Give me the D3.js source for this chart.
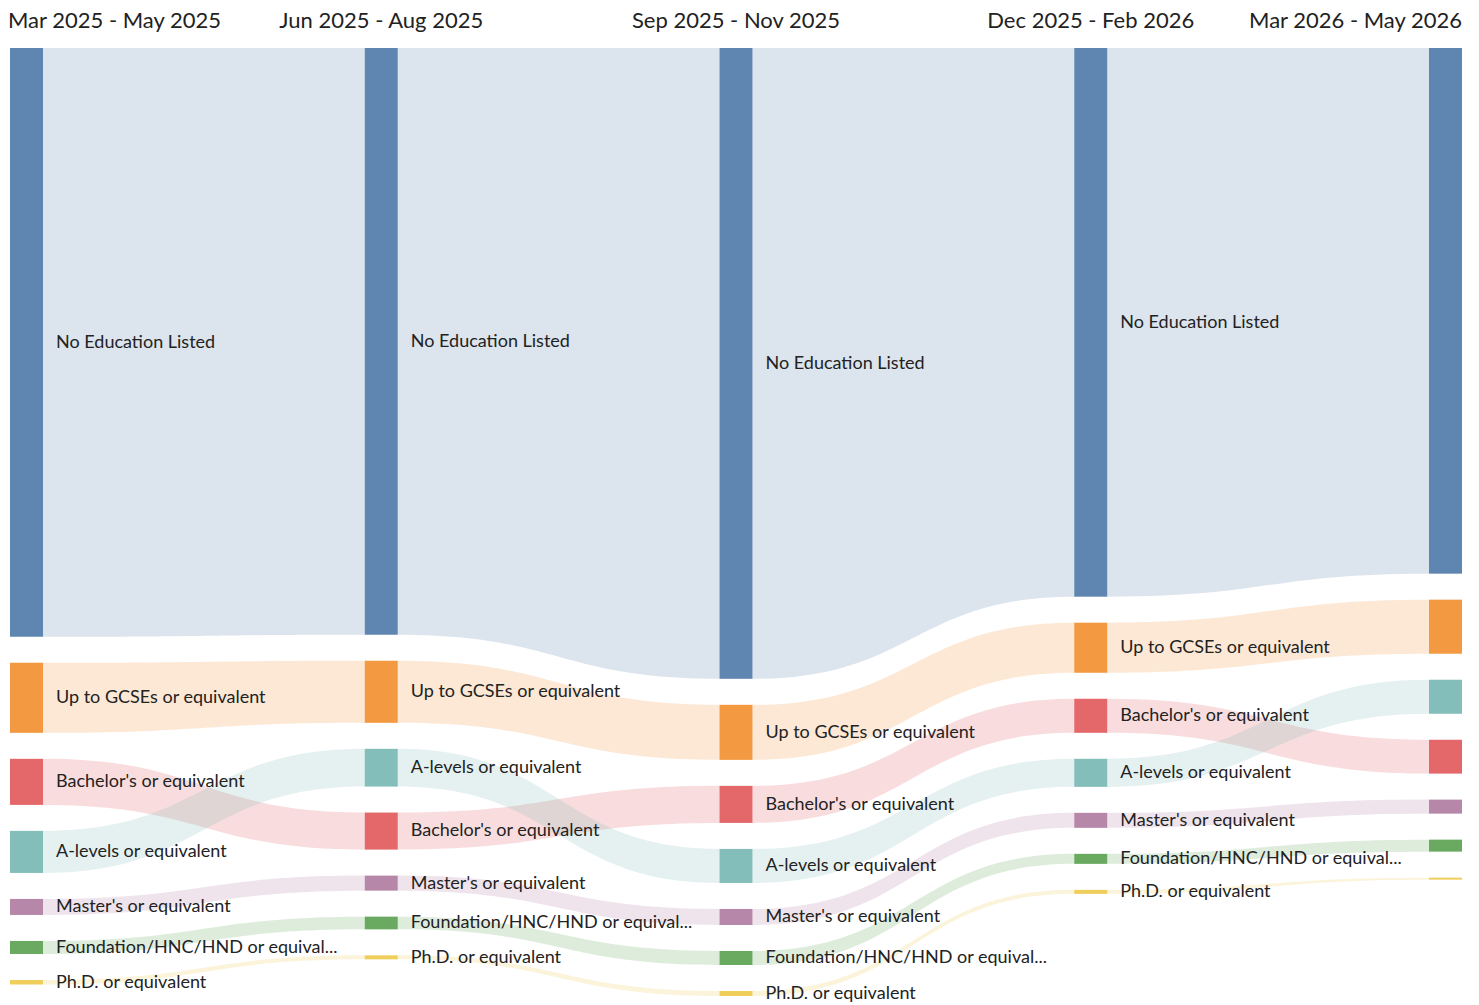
<!DOCTYPE html>
<html>
<head>
<meta charset="utf-8">
<script src="https://cdn.jsdelivr.net/npm/d3@7"></script>
<style>
  body { margin: 0; background: #fff; }
  svg { display: block; font-family: Lato, "Open Sans", sans-serif; }
</style>
</head>
<body>
<svg id="chart"></svg>
<script>
// periods (columns)
const periods = ["Mar 2025 - May 2025", "Jun 2025 - Aug 2025", "Sep 2025 - Nov 2025", "Dec 2025 - Feb 2026", "Mar 2026 - May 2026"];

const categories = [
  "No Education Listed",
  "Up to GCSEs or equivalent",
  "Bachelor's or equivalent",
  "A-levels or equivalent",
  "Master's or equivalent",
  "Foundation/HNC/HND or equivalent",
  "Ph.D. or equivalent"
];

// one value per period, same order as periods
const noEducation = [588, 586, 630, 548, 525];
const gcses       = [70, 62, 55, 50, 54];
const bachelors   = [46, 37, 37, 34, 33.8];
const aLevels     = [42, 37.7, 34, 28, 34];
const masters     = [16, 15, 16, 15, 14];
const foundation  = [13, 12.7, 14, 10, 12];
const phd         = [4.5, 4, 5, 4, 2];

const seriesValues = [noEducation, gcses, bachelors, aLevels, masters, foundation, phd];

const colors = ["#4e79a7", "#f28e2c", "#e15759", "#76b7b2", "#af7aa1", "#59a14f", "#edc949"];

const width = 1479, height = 1005;
const nodeWidth = 33, nodePadding = 26;
const yTop = 48, yBottom = 996;

const svg = d3.select("#chart").attr("width", width).attr("height", height);

const colour = d3.scaleOrdinal().domain(categories).range(colors);

const xScale = d3.scalePoint()
  .domain(periods)
  .range([10, width - 17 - nodeWidth]);

// build the nodes for every column, stacked by value descending
let columns = periods.map((p, i) => {
  let nodes = categories.map((c, j) => ({ period: p, col: i, category: c, value: seriesValues[j][i], order: j }));
  nodes.sort((a, b) => d3.descending(a.value, b.value) || a.order - b.order);
  return nodes;
});

let maxSum = d3.max(columns, col => d3.sum(col, d => d.value));
let ky = (yBottom - yTop - (categories.length - 1) * nodePadding) / maxSum;

const yScale = d3.scaleLinear().domain([0, maxSum]).range([0, maxSum * ky]);

columns.forEach(col => {
  let y = yTop;
  col.forEach(n => {
    n.x0 = xScale(n.period);
    n.x1 = n.x0 + nodeWidth;
    n.y0 = y;
    n.y1 = y + yScale(n.value);
    y = n.y1 + nodePadding;
  });
});

// links between the same category in adjacent columns
let links = [];
for (let i = 0; i < columns.length - 1; i++) {
  categories.forEach(c => {
    let s = columns[i].find(n => n.category == c);
    let t = columns[i + 1].find(n => n.category == c);
    links.push({ source: s, target: t, category: c });
  });
}

function bandPath(d) {
  let x0 = d.source.x1, x1 = d.target.x0;
  let xm = (x0 + x1) / 2;
  return `M${x0},${d.source.y0}C${xm},${d.source.y0} ${xm},${d.target.y0} ${x1},${d.target.y0}` +
    `L${x1},${d.target.y1}C${xm},${d.target.y1} ${xm},${d.source.y1} ${x0},${d.source.y1}Z`;
}

svg.append("g").attr("id", "links")
  .selectAll("path")
  .data(links)
  .join("path")
  .attr("d", bandPath)
  .attr("fill", d => colour(d.category))
  .attr("fill-opacity", 0.2);

let allNodes = columns.flat();

svg.append("g").attr("id", "nodes")
  .selectAll("rect")
  .data(allNodes)
  .join("rect")
  .attr("x", d => d.x0)
  .attr("y", d => d.y0)
  .attr("width", nodeWidth)
  .attr("height", d => Math.max(1, d.y1 - d.y0))
  .attr("fill", d => colour(d.category))
  .attr("fill-opacity", 0.9);

// node labels, all columns but the last
let labels = svg.append("g").attr("id", "labels")
  .selectAll("text")
  .data(allNodes.filter(d => d.col < periods.length - 1))
  .join("text")
  .attr("x", d => d.x1 + 13)
  .attr("y", d => (d.y0 + d.y1) / 2)
  .attr("dy", "0.3em")
  .attr("font-size", 18)
  .attr("fill", "#222")
  .text(d => d.category);

// truncate long labels
const maxLabel = 283;
labels.each(function(d) {
  let el = d3.select(this);
  let txt = d.category;
  if (this.getComputedTextLength() > maxLabel) {
    while (txt.length > 0 && this.getComputedTextLength() > maxLabel) {
      txt = txt.slice(0, -1);
      el.text(txt + "...");
    }
  }
});

// column headers
svg.append("g").attr("id", "headers")
  .selectAll("text")
  .data(periods)
  .join("text")
  .attr("x", (d, i) => i == 0 ? 8 : i == periods.length - 1 ? xScale(d) + nodeWidth : xScale(d) + nodeWidth / 2)
  .attr("y", 28)
  .attr("text-anchor", (d, i) => i == 0 ? "start" : i == periods.length - 1 ? "end" : "middle")
  .attr("font-size", 22)
  .attr("fill", "#222")
  .text(d => d);
</script>
</body>
</html>
